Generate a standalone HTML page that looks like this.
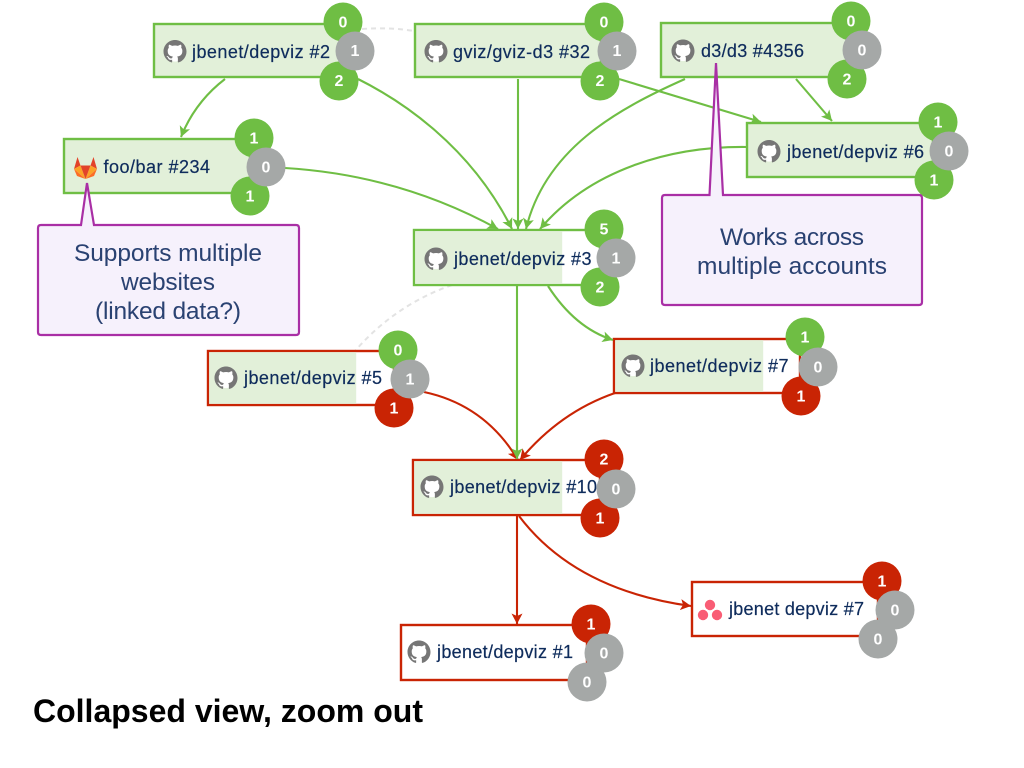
<!DOCTYPE html>
<html><head><meta charset="utf-8"><style>
html,body{margin:0;padding:0;background:#fff;width:1024px;height:768px;overflow:hidden}
svg{display:block}
.n{font:18px "Liberation Sans",sans-serif;fill:#0f2c5c;stroke:#0f2c5c;stroke-width:.2}
.c{font:bold 16px "Liberation Sans",sans-serif;fill:#fff;text-anchor:middle}
.k{font:24.5px "Liberation Sans",sans-serif;fill:#2a4272;text-anchor:middle}
.l{fill:none;stroke-width:2.1}
.g{stroke:#6fbe44}.r{stroke:#c92404}
.d{fill:none;stroke:#e3e3e3;stroke-width:2;stroke-dasharray:5 4}
</style></head><body>
<svg width="1024" height="768" viewBox="0 0 1024 768" xmlns="http://www.w3.org/2000/svg">
<defs>
<marker id="ag" markerUnits="userSpaceOnUse" markerWidth="14" markerHeight="12" refX="10.500" refY="6" orient="auto"><path d="M0 .5L10.500 6 0 11.500 2.500 6z" fill="#6fbe44"/></marker>
<marker id="ar" markerUnits="userSpaceOnUse" markerWidth="14" markerHeight="12" refX="10.500" refY="6" orient="auto"><path d="M0 .5L10.500 6 0 11.500 2.500 6z" fill="#c92404"/></marker>
<symbol id="gh" viewBox="0 0 16 16" overflow="visible"><circle cx="8" cy="8" r="7" fill="#fff"/><path fill="#767676" d="M8 0C3.58 0 0 3.58 0 8c0 3.54 2.29 6.53 5.47 7.59.4.07.55-.17.55-.38 0-.19-.01-.82-.01-1.49-2.01.37-2.53-.49-2.69-.94-.09-.23-.48-.94-.82-1.13-.28-.15-.68-.52-.01-.53.63-.01 1.08.58 1.23.82.72 1.21 1.87.87 2.33.66.07-.52.28-.87.51-1.07-1.78-.2-3.64-.89-3.64-3.95 0-.87.31-1.59.82-2.15-.08-.2-.36-1.02.08-2.12 0 0 .67-.21 2.2.82.64-.18 1.32-.27 2-.27.68 0 1.36.09 2 .27 1.53-1.04 2.2-.82 2.2-.82.44 1.1.16 1.92.08 2.12.51.56.82 1.27.82 2.15 0 3.07-1.87 3.75-3.65 3.95.29.25.54.73.54 1.48 0 1.07-.01 1.93-.01 2.2 0 .21.15.46.55.38A8.013 8.013 0 0016 8c0-4.42-3.58-8-8-8z"/></symbol>
</defs>

<!-- dashed links -->
<path class="d" d="M362 29Q390 27 414 31"/>
<path class="d" d="M452 285Q395 305 355 351"/>

<!-- node boxes -->
<g stroke-width="2.4">
<rect x="154" y="24" width="186" height="53" fill="#e2f0d9" stroke="#6fbe44"/>
<rect x="415" y="24" width="186" height="53" fill="#e2f0d9" stroke="#6fbe44"/>
<rect x="661" y="23" width="190" height="54" fill="#e2f0d9" stroke="#6fbe44"/>
<rect x="747" y="123" width="186" height="54" fill="#e2f0d9" stroke="#6fbe44"/>
<rect x="64" y="139" width="186" height="54" fill="#e2f0d9" stroke="#6fbe44"/>

<rect x="414" y="230" width="186" height="55" fill="#fff" stroke="#6fbe44"/>
<rect x="415.200" y="231.200" width="147" height="52.600" fill="#e2f0d9" stroke="none"/>

<rect x="208" y="351" width="186" height="54" fill="#fff" stroke="#c92404"/>
<rect x="209.200" y="352.200" width="147" height="51.600" fill="#e2f0d9" stroke="none"/>

<rect x="614" y="339" width="186" height="54" fill="#fff" stroke="#c92404"/>
<rect x="615.200" y="340.200" width="148" height="51.600" fill="#e2f0d9" stroke="none"/>

<rect x="413" y="460" width="187" height="55" fill="#fff" stroke="#c92404"/>
<rect x="414.200" y="461.200" width="148" height="52.600" fill="#e2f0d9" stroke="none"/>

<rect x="401" y="625" width="186" height="55" fill="#fff" stroke="#c92404"/>
<rect x="692" y="582" width="186" height="54" fill="#fff" stroke="#c92404"/>
</g>

<!-- connectors -->
<g>
<path class="l g" marker-end="url(#ag)" d="M225 79Q195 102 181 137"/>
<path class="l g" marker-end="url(#ag)" d="M358 79C400 100 470 145 512 229"/>
<path class="l g" marker-end="url(#ag)" d="M518 79L518 229"/>
<path class="l g" marker-end="url(#ag)" d="M685 79C615 110 545 150 526 229"/>
<path class="l g" marker-end="url(#ag)" d="M619 79L761 122"/>
<path class="l g" marker-end="url(#ag)" d="M796 79L832 121"/>
<path class="l g" marker-end="url(#ag)" d="M747 147C670 146 590 170 540 229"/>
<path class="l g" marker-end="url(#ag)" d="M285 168Q400 175 498 229"/>
<path class="l g" d="M517 285L517 459"/>
<path class="l g" marker-end="url(#ag)" d="M548 286Q575 328 613 340"/>
<path class="l r" marker-end="url(#ar)" d="M424 392Q485 405 518 460"/>
<path class="l r" marker-end="url(#ar)" d="M615 393Q560 412 520 460"/>
<path class="l g" marker-end="url(#ag)" d="M517 440L517 459"/>
<path class="l r" marker-end="url(#ar)" d="M517 516L517 624"/>
<path class="l r" marker-end="url(#ar)" d="M519 516Q575 590 691 606"/>
</g>

<!-- node icons + labels -->
<use href="#gh" x="163.500" y="40" width="23" height="23"/>
<text class="n" x="192" y="58" textLength="138" lengthAdjust="spacing">jbenet/depviz #2</text>
<use href="#gh" x="424.500" y="40" width="23" height="23"/>
<text class="n" x="453" y="58" textLength="137" lengthAdjust="spacing">gviz/gviz-d3 #32</text>
<use href="#gh" x="671.500" y="39.500" width="23" height="23"/>
<text class="n" x="701" y="57" textLength="103" lengthAdjust="spacing">d3/d3 #4356</text>
<use href="#gh" x="757.500" y="140" width="23" height="23"/>
<text class="n" x="787" y="158" textLength="137" lengthAdjust="spacing">jbenet/depviz #6</text>
<text class="n" x="103.500" y="173" textLength="106.500" lengthAdjust="spacing">foo/bar #234</text>
<use href="#gh" x="424.500" y="247.500" width="23" height="23"/>
<text class="n" x="454" y="265" textLength="137.500" lengthAdjust="spacing">jbenet/depviz #3</text>
<use href="#gh" x="214.500" y="366.500" width="23" height="23"/>
<text class="n" x="244" y="384" textLength="138" lengthAdjust="spacing">jbenet/depviz #5</text>
<use href="#gh" x="621.500" y="354.500" width="23" height="23"/>
<text class="n" x="650" y="372" textLength="138.500" lengthAdjust="spacing">jbenet/depviz #7</text>
<use href="#gh" x="420.500" y="475.500" width="23" height="23"/>
<text class="n" x="450" y="493" textLength="147" lengthAdjust="spacing">jbenet/depviz #10</text>
<use href="#gh" x="407.500" y="640.500" width="23" height="23"/>
<text class="n" x="437" y="658" textLength="136" lengthAdjust="spacing">jbenet/depviz #1</text>
<text class="n" x="729" y="615" textLength="135" lengthAdjust="spacing">jbenet depviz #7</text>

<!-- gitlab -->
<g transform="translate(74,157)">
<path d="M0 12L3.500 0 6.500 8.500z" fill="#e24329"/><path d="M23 12L19.500 0 16.500 8.500z" fill="#e24329"/>
<path d="M0 12L6.500 8.500 11.500 22z" fill="#fca326"/><path d="M23 12L16.500 8.500 11.500 22z" fill="#fca326"/>
<path d="M6.500 8.500H16.500L11.500 22z" fill="#e24329"/>
<path d="M0 12L11.500 22 3 19z" fill="#fc6d26"/><path d="M23 12L11.500 22 20 19z" fill="#fc6d26"/>
</g>
<!-- asana -->
<circle cx="710" cy="605" r="5.200" fill="#f95d75"/><circle cx="703" cy="615" r="5.200" fill="#f95d75"/><circle cx="717" cy="615" r="5.200" fill="#f95d75"/>

<!-- badges -->
<g id="badges">
<circle cx="343" cy="22" r="19.500" fill="#6fbe44"/><text class="c" x="343" y="27.500">0</text>
<circle cx="339" cy="81" r="19.500" fill="#6fbe44"/><text class="c" x="339" y="86">2</text>
<circle cx="355" cy="51" r="19.500" fill="#a5a8a7"/><text class="c" x="355" y="56">1</text>

<circle cx="604" cy="22" r="19.500" fill="#6fbe44"/><text class="c" x="604" y="27.500">0</text>
<circle cx="600" cy="81" r="19.500" fill="#6fbe44"/><text class="c" x="600" y="86">2</text>
<circle cx="617" cy="51" r="19.500" fill="#a5a8a7"/><text class="c" x="617" y="56">1</text>

<circle cx="851" cy="21" r="19.500" fill="#6fbe44"/><text class="c" x="851" y="26.500">0</text>
<circle cx="847" cy="79" r="19.500" fill="#6fbe44"/><text class="c" x="847" y="84.500">2</text>
<circle cx="862" cy="50" r="19.500" fill="#a5a8a7"/><text class="c" x="862" y="55.500">0</text>

<circle cx="938" cy="122" r="19.500" fill="#6fbe44"/><text class="c" x="938" y="127.500">1</text>
<circle cx="934" cy="180" r="19.500" fill="#6fbe44"/><text class="c" x="934" y="185.500">1</text>
<circle cx="949" cy="151" r="19.500" fill="#a5a8a7"/><text class="c" x="949" y="156.500">0</text>

<circle cx="254" cy="138" r="19.500" fill="#6fbe44"/><text class="c" x="254" y="143.500">1</text>
<circle cx="250" cy="196" r="19.500" fill="#6fbe44"/><text class="c" x="250" y="201.500">1</text>
<circle cx="266" cy="167" r="19.500" fill="#a5a8a7"/><text class="c" x="266" y="172.500">0</text>

<circle cx="604" cy="229" r="19.500" fill="#6fbe44"/><text class="c" x="604" y="234.500">5</text>
<circle cx="600" cy="287" r="19.500" fill="#6fbe44"/><text class="c" x="600" y="292.500">2</text>
<circle cx="616" cy="258" r="19.500" fill="#a5a8a7"/><text class="c" x="616" y="263.500">1</text>

<circle cx="398" cy="350" r="19.500" fill="#6fbe44"/><text class="c" x="398" y="355.500">0</text>
<circle cx="394" cy="408" r="19.500" fill="#c92404"/><text class="c" x="394" y="413.500">1</text>
<circle cx="410" cy="379" r="19.500" fill="#a5a8a7"/><text class="c" x="410" y="384.500">1</text>

<circle cx="805" cy="337" r="19.500" fill="#6fbe44"/><text class="c" x="805" y="342.500">1</text>
<circle cx="801" cy="396" r="19.500" fill="#c92404"/><text class="c" x="801" y="401.500">1</text>
<circle cx="818" cy="367" r="19.500" fill="#a5a8a7"/><text class="c" x="818" y="372.500">0</text>

<circle cx="604" cy="459" r="19.500" fill="#c92404"/><text class="c" x="604" y="464.500">2</text>
<circle cx="600" cy="518" r="19.500" fill="#c92404"/><text class="c" x="600" y="523.500">1</text>
<circle cx="616" cy="489" r="19.500" fill="#a5a8a7"/><text class="c" x="616" y="494.500">0</text>

<circle cx="591" cy="624" r="19.500" fill="#c92404"/><text class="c" x="591" y="629.500">1</text>
<circle cx="587" cy="682" r="19.500" fill="#a5a8a7"/><text class="c" x="587" y="687.500">0</text>
<circle cx="604" cy="653" r="19.500" fill="#a5a8a7"/><text class="c" x="604" y="658.500">0</text>

<circle cx="882" cy="581" r="19.500" fill="#c92404"/><text class="c" x="882" y="586.500">1</text>
<circle cx="878" cy="639" r="19.500" fill="#a5a8a7"/><text class="c" x="878" y="644.500">0</text>
<circle cx="895" cy="610" r="19.500" fill="#a5a8a7"/><text class="c" x="895" y="615.500">0</text>
</g>

<!-- callouts -->
<path d="M41 225H81L87 183 94 225H296Q299 225 299 228V332Q299 335 296 335H41Q38 335 38 332V228Q38 225 41 225Z" fill="#f6f1fc" stroke="#a92fa5" stroke-width="2.2"/>
<text class="k" x="168" y="261" textLength="188" lengthAdjust="spacing">Supports multiple</text>
<text class="k" x="168" y="290" textLength="94" lengthAdjust="spacing">websites</text>
<text class="k" x="168" y="319" textLength="146" lengthAdjust="spacing">(linked data?)</text>

<path d="M665 195H709.500L716 63 723 195H919Q922 195 922 198V302Q922 305 919 305H665Q662 305 662 302V198Q662 195 665 195Z" fill="#f6f1fc" stroke="#a92fa5" stroke-width="2.2"/>
<text class="k" x="792" y="245" textLength="144" lengthAdjust="spacing">Works across</text>
<text class="k" x="792" y="274" textLength="190" lengthAdjust="spacing">multiple accounts</text>

<text x="33" y="722" textLength="390" lengthAdjust="spacing" style="font:bold 32px 'Liberation Sans',sans-serif;fill:#000">Collapsed view, zoom out</text>
</svg>
</body></html>
